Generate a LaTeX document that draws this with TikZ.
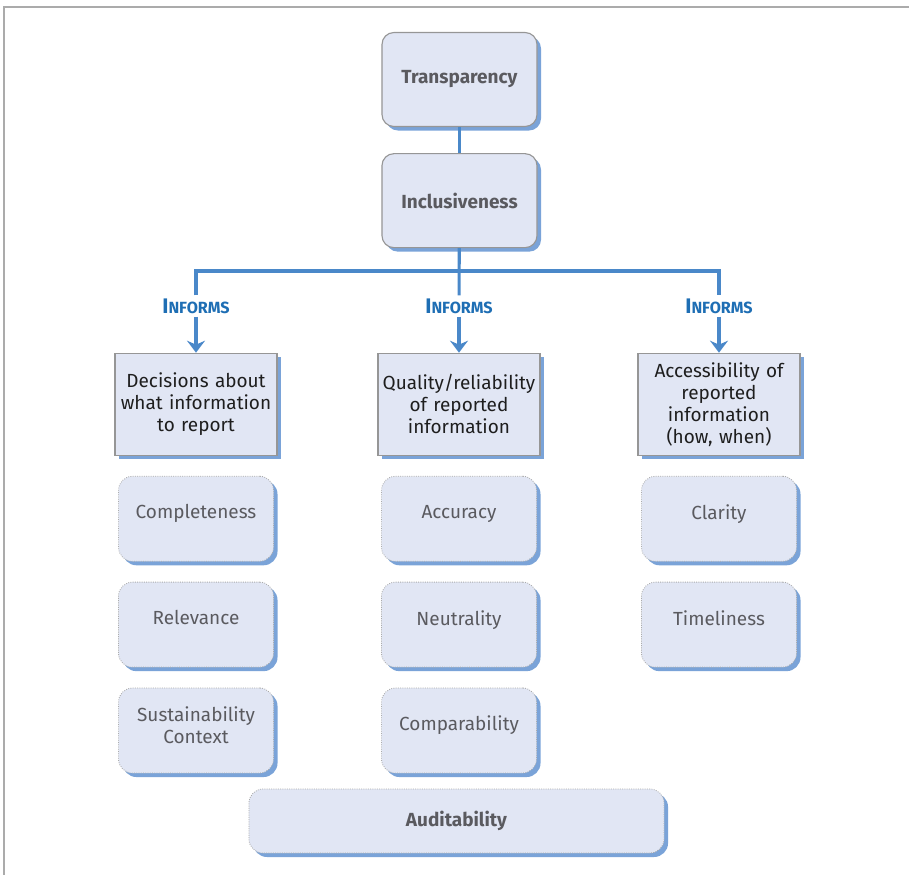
\documentclass[tikz,border=0pt]{standalone}
\usepackage{fontspec}
\setmainfont{Fira Sans}
\usepackage{tikz}
\usetikzlibrary{positioning,arrows.meta,shadows}
\definecolor{colorbox}   {RGB}{225,230,244}
\definecolor{colorshadow}{RGB}{122,163,216}
\definecolor{colorline}  {RGB}{74,136,201}
\definecolor{colorinform}{RGB}{30,110,180}
\definecolor{colorframe} {RGB}{150,150,150}
\definecolor{colortext}  {RGB}{30,30,30}
\definecolor{colorgray}  {RGB}{90,90,95}

\begin{document}
\begin{tikzpicture}[
    x=0.025cm, y=-0.025cm,
    node distance = 0.5cm,
    font={\fontsize{13.5}{15.6}\selectfont},
    shade/.style={drop shadow={shadow xshift=0.1cm, shadow yshift=-0.1cm, opacity=1, fill=colorshadow}},
    principle/.style={shade, draw=colorframe, line width=0.8pt, rounded corners=0.3cm, fill=colorbox, text=colorgray,
        font={\fontsize{13.5}{15}\selectfont\bfseries}, minimum width=3.875cm, minimum height=2.35cm},
    concept/.style={shade, draw=colorframe, line width=0.8pt, fill=colorbox, text=colortext, align=center,
        text width=3.95cm, inner sep=0.05cm, minimum height=2.55cm},
    quality/.style={shade, draw=colorframe!80, densely dotted, line width=0.6pt, rounded corners=0.35cm, fill=colorbox,
        text=colorgray, align=center, minimum width=3.875cm, minimum height=2.125cm, text depth=0.35cm},
    inform/.style={text=colorinform, font={\fontsize{15}{15}\selectfont\bfseries}, inner sep=0.08cm, text height=0.36cm, text depth=0cm},
    relation/.style={draw=colorline, line width=2.2pt},
]

    % Frame
    \useasboundingbox (0,0) rectangle (909,875);
    \draw[colorframe!80, line width=1.5pt] (4,875) -- (4,7) -- (909,7);

    % Principles
    \node[principle] (tr) at (459.5,79.5) {Transparency};
    \node[principle, below=0.65cm of tr] (inc) {Inclusiveness};

    % Informs labels
    \node[inform] (inf1) at (196,306) {I{\fontsize{11.5}{11.5}\selectfont NFORMS}};
    \node[inform] (inf2) at (459,306) {I{\fontsize{11.5}{11.5}\selectfont NFORMS}};
    \node[inform] (inf3) at (719,306) {I{\fontsize{11.5}{11.5}\selectfont NFORMS}};

    % Concepts
    \node[concept, below=0.9cm of inf1] (dec)  {Decisions about\\what information\\to report};
    \node[concept, below=0.9cm of inf2] (qual) {Quality/reliability\\of reported\\information};
    \node[concept, below=0.9cm of inf3] (acc)  {Accessibility of\\reported\\information\\(how, when)};

    \node[quality, below=of dec]  (comp) {Completeness};
    \node[quality, below=of comp] (rel)  {Relevance};
    \node[quality, below=of rel, text depth=0.25cm] (ctx) {Sustainability\\Context};

    \node[quality, below=of qual] (accu) {Accuracy};
    \node[quality, below=of accu] (neu)  {Neutrality};
    \node[quality, below=of neu]  (cmp)  {Comparability};

    \node[quality, below=of acc]  (cla)  {Clarity};
    \node[quality, below=of cla]  (tim)  {Timeliness};

    \node[quality, font={\fontsize{13.5}{15}\selectfont\bfseries}, text depth=, minimum width=10.375cm, minimum height=1.6cm] (aud) at (456.5,821) {Auditability};

    % Relations
    \draw[relation] (tr) -- (inc);
    \draw[relation] (inc) -- (inf2);
    \draw[relation] (inf1.north) |- (459,271) -| (inf3.north);

    \draw[relation,-{Stealth[length=0.3cm,width=0.45cm,inset=0.1cm]}] (inf1) -- (dec);
    \draw[relation,-{Stealth[length=0.3cm,width=0.45cm,inset=0.1cm]}] (inf2) -- (qual);
    \draw[relation,-{Stealth[length=0.3cm,width=0.45cm,inset=0.1cm]}] (inf3) -- (acc);

\end{tikzpicture}
\end{document}
